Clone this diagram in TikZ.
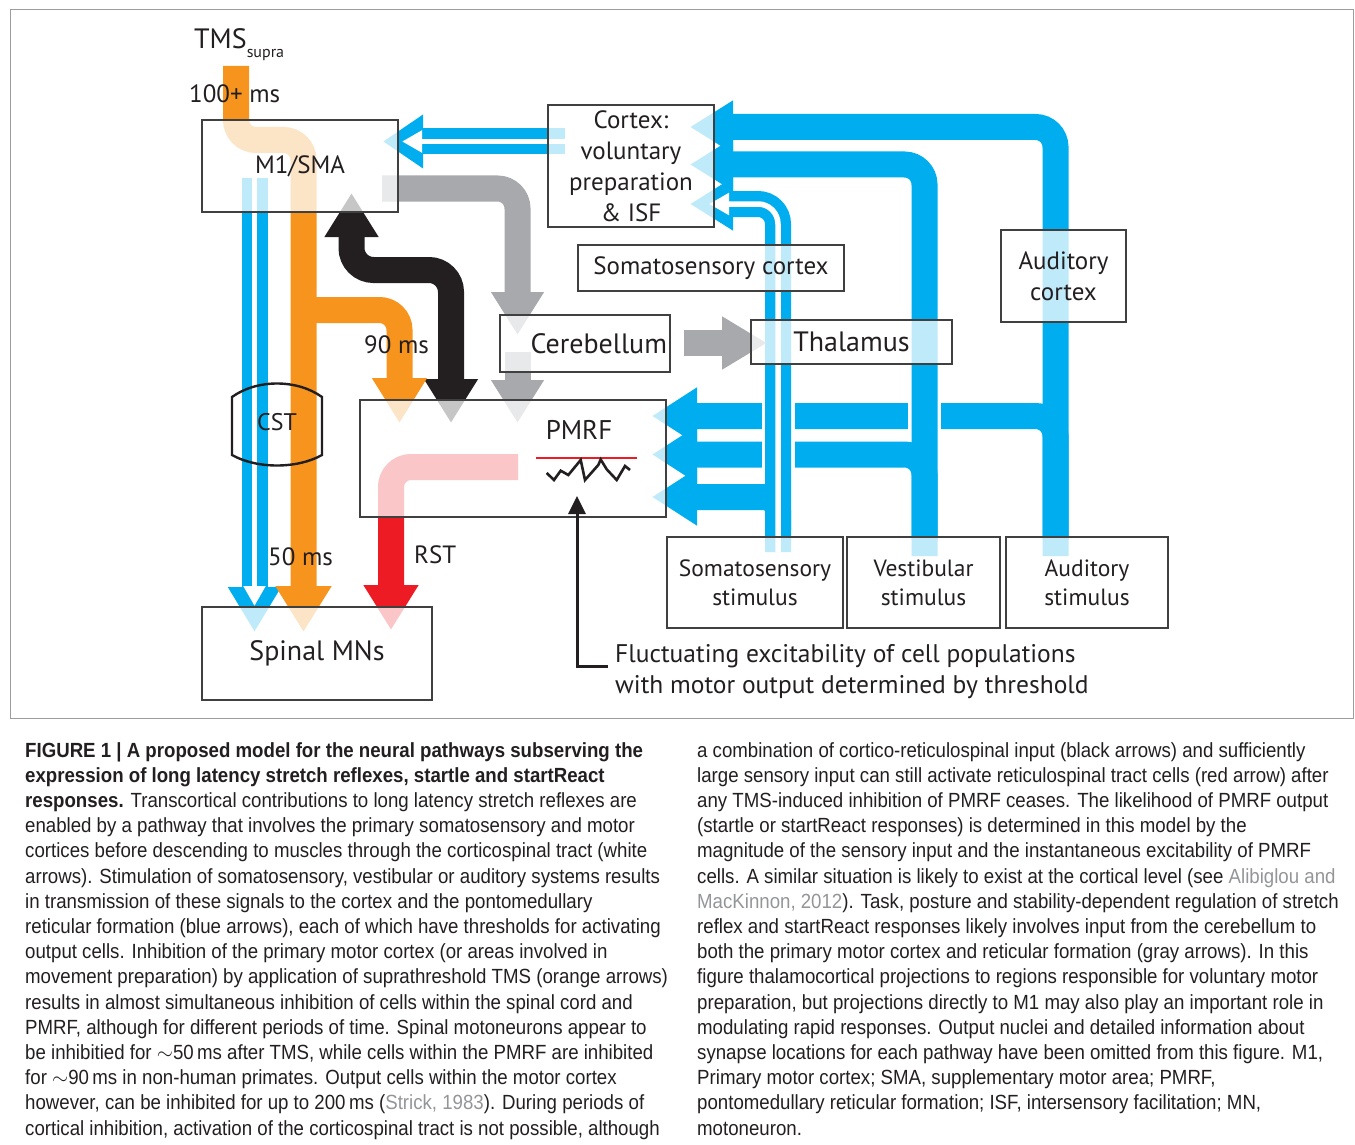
\documentclass[tikz,border=0pt]{standalone}
\usepackage{fontspec}
\setmainfont{PT Sans}
\newfontfamily\capfont[FakeStretch=0.91]{Liberation Sans}
\usetikzlibrary{arrows.meta,positioning,calc}
\pgfdeclarelayer{tracts}
\pgfsetlayers{tracts,main}

\definecolor{tmsorange}{HTML}{F7941D}
\definecolor{sensblue}{HTML}{00AEEF}
\definecolor{cbgray}{HTML}{A7A9AC}
\definecolor{rstred}{HTML}{ED1C24}
\definecolor{ink}{HTML}{231F20}
\definecolor{boxline}{HTML}{404041}
\definecolor{refgray}{HTML}{939598}
\definecolor{framegray}{HTML}{9D9D9D}

\tikzset{
  region/.style={draw=boxline, line width=2.8pt, fill=white, fill opacity=0.75, draw opacity=1, text opacity=1, text=ink, inner sep=2pt, align=center, font=\fontsize{25}{31}\selectfont},
  lbl/.style={text=ink, inner sep=0pt, font=\fontsize{25}{31}\selectfont},
  tract/.style={line width=26pt, rounded corners=20pt},
  cuthead/.style={-{Triangle[width=50pt,length=43pt]}},
  rfhead/.style={-{Triangle[width=54pt,length=45pt]}},
  downhead/.style={-{Triangle[width=52pt,length=45pt]}},
  stripe/.style={white, line width=5.5pt, rounded corners=20pt, -{Triangle[width=21pt,length=20pt]}},
  casing/.style={white, line width=33pt},
  capcol/.style={anchor=north west, inner sep=0pt, align=left, text=ink, font=\capfont\fontsize{20.5}{25.2}\selectfont},
}

\begin{document}
\begin{tikzpicture}[x=1pt,y=-1pt]
\useasboundingbox (0,0) rectangle (1355,1145);
\draw[framegray, line width=1pt] (10,10) rectangle (1353,718);

% boxes
\node[region, minimum width=196pt, minimum height=92pt] (m1) at (300,166) {M1/SMA};
\node[region, minimum width=166pt, minimum height=122pt] (ctx) at (631,166) {Cortex:\\voluntary\\preparation\\\& ISF};
\node[region, minimum width=266pt, minimum height=46pt] (ssc) at (711,268) {Somatosensory cortex};
\node[region, minimum width=125pt, minimum height=92pt] (audc) at (1063.5,276) {Auditory\\cortex};
\node[region, minimum width=170pt, minimum height=57pt, text width=164pt, align=right, font=\fontsize{28}{31}\selectfont] (cer) at (585,343.5) {Cerebellum};
\node[region, minimum width=201pt, minimum height=44pt, font=\fontsize{28}{31}\selectfont] (thal) at (851.5,342) {Thalamus};
\node[region, minimum width=306pt, minimum height=117pt] (pmrf) at (513,458.5) {};
\node[region, minimum width=230pt, minimum height=93pt, font=\fontsize{28}{31}\selectfont] (spinal) at (317,653.5) {Spinal MNs};
\node[region, minimum width=176pt, minimum height=91pt, font=\fontsize{23.5}{29}\selectfont] (sstim) at (755,582.5) {Somatosensory\\stimulus};
\node[region, minimum width=153pt, minimum height=91pt, font=\fontsize{23.5}{29}\selectfont] (vstim) at (923.5,582.5) {Vestibular\\stimulus};
\node[region, minimum width=162pt, minimum height=91pt, font=\fontsize{23.5}{29}\selectfont] (astim) at (1087,582.5) {Auditory\\stimulus};

\node[lbl, font=\fontsize{27}{30}\selectfont] (pmrflabel) at (579,430) {PMRF};
\node[lbl, anchor=base west, font=\fontsize{28}{30}\selectfont] (tms) at (194,49) {TMS\raisebox{-9pt}{\fontsize{16}{16}\selectfont supra}};
\node[lbl, anchor=west] (t100) at (189,94) {100+ ms};
\node[lbl, anchor=west] (t90) at (364,345) {90 ms};
\node[lbl, anchor=west] (t50) at (268,557) {50 ms};
\node[lbl, anchor=west] (rst) at (414,555) {RST};
\node[lbl, font=\fontsize{24}{30}\selectfont] (cst) at (277,422) {CST};
\node[lbl, anchor=north west, align=left, font=\fontsize{25.5}{31}\selectfont] (fluct) at (615,644) {Fluctuating excitability of cell populations\\with motor output determined by threshold};

% end points of the tracts
\coordinate (aud0) at (1055.5,556);   \coordinate (audtip) at (690,127);
\coordinate (audbr) at (1055.5,540);  \coordinate (audrf) at (652,416);
\coordinate (ves0) at (924.5,556);    \coordinate (vestip) at (690,164.5);
\coordinate (vesbr) at (924.5,540);   \coordinate (vesrf) at (652,454.5);
\coordinate (som0) at (778,552);      \coordinate (somtip) at (690,204);
\coordinate (somw) at (709,204);
\coordinate (sombr) at (778,530);     \coordinate (somrf) at (652,497);
\coordinate (cst0) at (254.5,178);    \coordinate (csttip) at (254.5,632);
\coordinate (cstw) at (254.5,606);
\coordinate (cm0) at (565,141.5);     \coordinate (cmtip) at (383,141.5);
\coordinate (cmw) at (402,141.5);
\coordinate (g10) at (382,188.5);     \coordinate (g1tip) at (517.5,335);
\coordinate (g20) at (517.5,352);     \coordinate (g2tip) at (517.5,423);
\coordinate (g30) at (684,343);       \coordinate (g3tip) at (767,343);
\coordinate (blkup) at (351.5,193);   \coordinate (blkmid) at (451,270);
\coordinate (blkdn) at (451,423);
\coordinate (tmsin) at (236,66);      \coordinate (jog) at (303.5,140);
\coordinate (omtip) at (303.5,632);
\coordinate (obr) at (303.5,310);     \coordinate (obrtip) at (399.5,423);
\coordinate (rst0) at (518,467);      \coordinate (rsttip) at (391,630);
\coordinate (ptr) at (608,666);       \coordinate (thr) at (577,496);

\begin{pgfonlayer}{tracts}
% sensory input, blue
\draw[tract, sensblue, cuthead] (aud0) |- (audtip);
\draw[tract, sensblue, rfhead] (audbr) |- (audrf);
\draw[casing] (924.5,395) -- (924.5,437);
\draw[tract, sensblue, cuthead] (ves0) |- (vestip);
\draw[tract, sensblue, rfhead] (vesbr) |- (vesrf);
\draw[casing] (778,395) -- (778,475);
\draw[tract, sensblue, cuthead] (som0) |- (somtip);
\draw[tract, sensblue, rfhead, rounded corners=14pt] (sombr) |- (somrf);
\draw[stripe] (som0) |- (somw);
% corticospinal, white
\draw[tract, sensblue, -{Triangle[width=51pt,length=40pt]}] (cm0) -- (cmtip);
\draw[stripe] (cm0) -- (cmw);
\draw[tract, sensblue, -{Triangle[width=50pt,length=45pt]}] (cst0) -- (csttip);
\draw[stripe] (cst0) -- (cstw);
% cerebellum, gray
\draw[tract, cbgray, cuthead] (g10) -| (g1tip);
\draw[tract, cbgray, cuthead] (g20) -- (g2tip);
\draw[tract, cbgray, -{Triangle[width=50pt,length=45pt]}] (g30) -- (g3tip);
% cortico-reticulospinal, black
\draw[tract, ink, rounded corners=22pt, {Triangle[width=51pt,length=44pt]}-{Triangle[width=51pt,length=44pt]}] (blkup) |- (blkmid) -- (blkdn);
% TMS, orange
\draw[tract, tmsorange, -{Triangle[width=53pt,length=46pt]}] (tmsin) |- (jog) -- (omtip);
\draw[tract, tmsorange, downhead] (obr) -| (obrtip);
% reticulospinal, red
\draw[tract, rstred, downhead] (rst0) -| (rsttip);
\end{pgfonlayer}

% CST outline
\draw[ink, line width=2.4pt] (cst.center) ++(-45,-25) .. controls +(25,-18) and +(-25,-18) .. ++(90,0)
  -- ++(0,58) .. controls +(-25,14) and +(25,14) .. ++(-90,0) -- cycle;

% threshold
\draw[rstred, line width=2.6pt] (536,458) -- (637,458);
\draw[ink, line width=2.6pt, line join=miter] (546.7,473) -- (554,480) -- (560.7,470.7) -- (568.3,475) -- (580.7,460)
  -- (585,480) -- (598.3,465) -- (600.7,459.5) -- (606.7,469.3) -- (616.7,480) -- (625,466) -- (630,470);
\draw[ink, line width=3pt, -{Triangle[width=17pt,length=18pt]}] (ptr) -| (thr);

% caption
\node[capcol] (capl) at (25,742) {\textbf{FIGURE 1 | A proposed model for the neural pathways subserving the}\\
\textbf{expression of long latency stretch reflexes, startle and startReact}\\
\textbf{responses.} Transcortical contributions to long latency stretch reflexes are\\
enabled by a pathway that involves the primary somatosensory and motor\\
cortices before descending to muscles through the corticospinal tract (white\\
arrows). Stimulation of somatosensory, vestibular or auditory systems results\\
in transmission of these signals to the cortex and the pontomedullary\\
reticular formation (blue arrows), each of which have thresholds for activating\\
output cells. Inhibition of the primary motor cortex (or areas involved in\\
movement preparation) by application of suprathreshold TMS (orange arrows)\\
results in almost simultaneous inhibition of cells within the spinal cord and\\
PMRF, although for different periods of time. Spinal motoneurons appear to\\
be inhibitied for {$\sim$}50\,ms after TMS, while cells within the PMRF are inhibited\\
for {$\sim$}90\,ms in non-human primates. Output cells within the motor cortex\\
however, can be inhibited for up to 200\,ms (\textcolor{refgray}{Strick, 1983}). During periods of\\
cortical inhibition, activation of the corticospinal tract is not possible, although};
\node[capcol] (capr) at (697,742) {a combination of cortico-reticulospinal input (black arrows) and sufficiently\\
large sensory input can still activate reticulospinal tract cells (red arrow) after\\
any TMS-induced inhibition of PMRF ceases. The likelihood of PMRF output\\
(startle or startReact responses) is determined in this model by the\\
magnitude of the sensory input and the instantaneous excitability of PMRF\\
cells. A similar situation is likely to exist at the cortical level (see \textcolor{refgray}{Alibiglou and}\\
\textcolor{refgray}{MacKinnon, 2012}). Task, posture and stability-dependent regulation of stretch\\
reflex and startReact responses likely involves input from the cerebellum to\\
both the primary motor cortex and reticular formation (gray arrows). In this\\
figure thalamocortical projections to regions responsible for voluntary motor\\
preparation, but projections directly to M1 may also play an important role in\\
modulating rapid responses. Output nuclei and detailed information about\\
synapse locations for each pathway have been omitted from this figure. M1,\\
Primary motor cortex; SMA, supplementary motor area; PMRF,\\
pontomedullary reticular formation; ISF, intersensory facilitation; MN,\\
motoneuron.};
\end{tikzpicture}
\end{document}
